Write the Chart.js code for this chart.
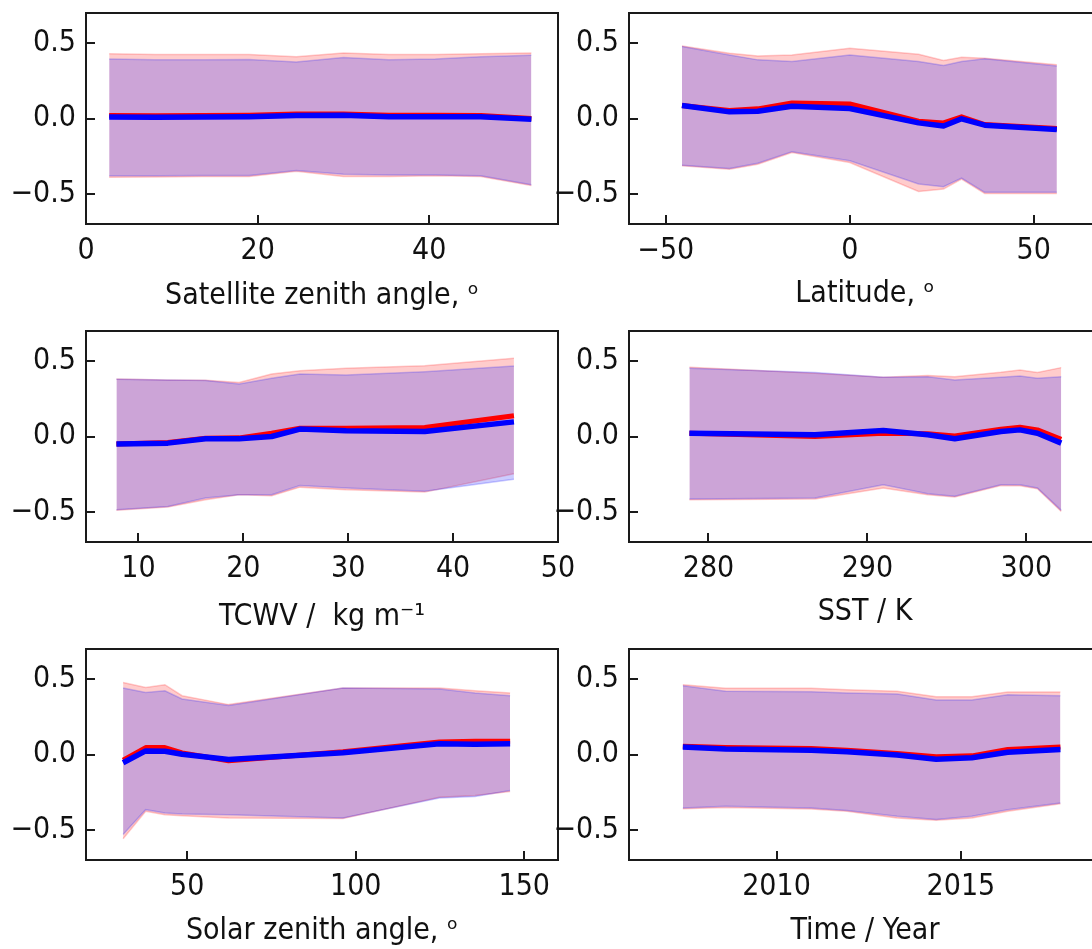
<!DOCTYPE html>
<html><head><meta charset="utf-8">
<script src="https://cdn.jsdelivr.net/npm/chart.js@4.4.1/dist/chart.umd.min.js"></script>
<style>
html,body{margin:0;padding:0;background:#fff;width:1092px;height:949px;overflow:hidden;}
#wrap{position:relative;width:1092px;height:949px;overflow:hidden;background:#fff;}
canvas{position:absolute;}
</style></head><body><div id="wrap"></div>
<script>
// ---------- DATA ----------
const yTickValues = [-0.5, 0, 0.5];
const yTickLabels = ['\u22120.5', '0.0', '0.5'];

// Satellite zenith angle
const satX        = [2.7, 8.1, 13.5, 19.0, 24.5, 30.0, 35.3, 40.7, 46.0, 51.9];
const satRedMean  = [0.02, 0.018, 0.02, 0.022, 0.03, 0.03, 0.022, 0.022, 0.02, 0.0];
const satRedUp    = [0.43, 0.425, 0.425, 0.425, 0.41, 0.435, 0.425, 0.425, 0.43, 0.435];
const satRedLow   = [-0.39, -0.388, -0.385, -0.385, -0.35, -0.385, -0.385, -0.38, -0.385, -0.445];
const satBlueMean = [0.01, 0.008, 0.01, 0.012, 0.02, 0.022, 0.012, 0.012, 0.012, -0.005];
const satBlueUp   = [0.395, 0.39, 0.39, 0.392, 0.375, 0.405, 0.39, 0.395, 0.41, 0.42];
const satBlueLow  = [-0.38, -0.38, -0.378, -0.378, -0.345, -0.37, -0.375, -0.375, -0.38, -0.44];
const satTicks = [0, 20, 40];
const satTickLabels = ['0', '20', '40'];
const satTitle = 'Satellite zenith angle, \u1D52';

// Latitude
const latX        = [-45.6, -32.7, -25.0, -15.7, 0.0, 18.7, 25.5, 30.4, 36.7, 56.3];
const latRedMean  = [0.086, 0.053, 0.064, 0.103, 0.097, -0.018, -0.029, 0.011, -0.04, -0.066];
const latRedUp    = [0.481, 0.433, 0.415, 0.422, 0.466, 0.426, 0.385, 0.407, 0.40, 0.356];
const latRedLow   = [-0.314, -0.336, -0.303, -0.226, -0.292, -0.484, -0.468, -0.402, -0.497, -0.497];
const latBlueMean = [0.086, 0.044, 0.048, 0.081, 0.066, -0.029, -0.05, -0.002, -0.044, -0.073];
const latBlueUp   = [0.477, 0.422, 0.389, 0.378, 0.422, 0.378, 0.352, 0.378, 0.396, 0.349];
const latBlueLow  = [-0.31, -0.332, -0.297, -0.22, -0.281, -0.435, -0.453, -0.396, -0.49, -0.49];
const latTicks = [-50, 0, 50];
const latTickLabels = ['\u221250', '0', '50'];
const latTitle = 'Latitude, \u1D52';

// TCWV
const tcwvX        = [7.9, 12.8, 16.4, 19.6, 22.7, 25.4, 29.8, 37.3, 45.8];
const tcwvRedMean  = [-0.049, -0.04, -0.011, -0.009, 0.022, 0.055, 0.055, 0.06, 0.137];
const tcwvRedUp    = [0.382, 0.375, 0.373, 0.358, 0.415, 0.437, 0.453, 0.47, 0.519];
const tcwvRedLow   = [-0.49, -0.468, -0.42, -0.386, -0.393, -0.336, -0.353, -0.369, -0.247];
const tcwvBlueMean = [-0.049, -0.044, -0.015, -0.015, 0.0, 0.049, 0.038, 0.033, 0.097];
const tcwvBlueUp   = [0.38, 0.375, 0.371, 0.349, 0.386, 0.415, 0.408, 0.43, 0.468];
const tcwvBlueLow  = [-0.486, -0.464, -0.408, -0.386, -0.386, -0.325, -0.342, -0.364, -0.283];
const tcwvTicks = [10, 20, 30, 40, 50];
const tcwvTickLabels = ['10', '20', '30', '40', '50'];
const tcwvTitle = 'TCWV /  kg m\u207B\u00B9';

// SST
const sstX        = [278.8, 286.7, 291.0, 293.8, 295.5, 298.4, 299.6, 300.7, 302.2];
const sstRedMean  = [0.022, 0.0, 0.022, 0.018, 0.004, 0.049, 0.062, 0.044, -0.018];
const sstRedUp    = [0.459, 0.419, 0.393, 0.404, 0.397, 0.426, 0.442, 0.424, 0.457];
const sstRedLow   = [-0.419, -0.415, -0.342, -0.386, -0.402, -0.325, -0.327, -0.347, -0.497];
const sstBlueMean = [0.022, 0.011, 0.04, 0.011, -0.015, 0.033, 0.044, 0.022, -0.044];
const sstBlueUp   = [0.453, 0.424, 0.393, 0.397, 0.375, 0.393, 0.402, 0.386, 0.397];
const sstBlueLow  = [-0.415, -0.408, -0.32, -0.38, -0.397, -0.32, -0.32, -0.342, -0.49];
const sstTicks = [280, 290, 300];
const sstTickLabels = ['280', '290', '300'];
const sstTitle = 'SST / K';

// Solar zenith angle
const szaX        = [31.0, 37.7, 43.4, 48.5, 62.3, 96.2, 124.8, 135.4, 145.8];
const szaRedMean  = [-0.037, 0.046, 0.046, 0.011, -0.042, 0.018, 0.083, 0.088, 0.088];
const szaRedUp    = [0.478, 0.445, 0.463, 0.39, 0.331, 0.441, 0.441, 0.423, 0.408];
const szaRedLow   = [-0.559, -0.377, -0.399, -0.406, -0.421, -0.425, -0.283, -0.272, -0.246];
const szaBlueMean = [-0.055, 0.024, 0.022, 0.002, -0.033, 0.011, 0.072, 0.068, 0.072];
const szaBlueUp   = [0.441, 0.412, 0.423, 0.368, 0.325, 0.441, 0.434, 0.408, 0.39];
const szaBlueLow  = [-0.531, -0.366, -0.388, -0.395, -0.399, -0.421, -0.289, -0.279, -0.239];
const szaTicks = [50, 100, 150];
const szaTickLabels = ['50', '100', '150'];
const szaTitle = 'Solar zenith angle, \u1D52';

// Time
const timeX        = [2007.46, 2008.62, 2010.94, 2011.91, 2013.27, 2014.33, 2015.3, 2016.27, 2017.7];
const timeRedMean  = [0.055, 0.046, 0.039, 0.029, 0.007, -0.015, -0.009, 0.033, 0.05];
const timeRedUp    = [0.463, 0.439, 0.439, 0.43, 0.419, 0.384, 0.384, 0.414, 0.414];
const timeRedLow   = [-0.36, -0.351, -0.362, -0.377, -0.421, -0.436, -0.421, -0.377, -0.327];
const timeBlueMean = [0.05, 0.037, 0.029, 0.018, -0.004, -0.031, -0.022, 0.015, 0.033];
const timeBlueUp   = [0.456, 0.419, 0.417, 0.408, 0.401, 0.362, 0.362, 0.397, 0.39];
const timeBlueLow  = [-0.355, -0.344, -0.355, -0.371, -0.41, -0.432, -0.41, -0.366, -0.322];
const timeTicks = [2010, 2015];
const timeTickLabels = ['2010', '2015'];
const timeTitle = 'Time / Year';

// ---------- LAYOUT / STYLE ----------
Chart.defaults.font.family = "'DejaVu Sans Condensed','DejaVu Sans',sans-serif";
const FONT = 30;
const PLOT_W = 472, PLOT_H = 211, YAX_W = 86, XAX_H = 95, PAD_TOP = 8;
const colCanvasLeft = [0, 543];
const colCanvasWidth = [600, 568];
const rowPlotTop = [13, 331, 649];

const panels = [
  {x: satX, rm: satRedMean, ru: satRedUp, rl: satRedLow, bm: satBlueMean, bu: satBlueUp, bl: satBlueLow,
   ticks: satTicks, labels: satTickLabels, title: satTitle, min: 0, max: 55, col: 0, row: 0, tOff: 72},
  {x: latX, rm: latRedMean, ru: latRedUp, rl: latRedLow, bm: latBlueMean, bu: latBlueUp, bl: latBlueLow,
   ticks: latTicks, labels: latTickLabels, title: latTitle, min: -60, max: 68.3, col: 1, row: 0, tOff: 70},
  {x: tcwvX, rm: tcwvRedMean, ru: tcwvRedUp, rl: tcwvRedLow, bm: tcwvBlueMean, bu: tcwvBlueUp, bl: tcwvBlueLow,
   ticks: tcwvTicks, labels: tcwvTickLabels, title: tcwvTitle, min: 5, max: 50, col: 0, row: 1, tOff: 75},
  {x: sstX, rm: sstRedMean, ru: sstRedUp, rl: sstRedLow, bm: sstBlueMean, bu: sstBlueUp, bl: sstBlueLow,
   ticks: sstTicks, labels: sstTickLabels, title: sstTitle, min: 275, max: 304.7, col: 1, row: 1, tOff: 70},
  {x: szaX, rm: szaRedMean, ru: szaRedUp, rl: szaRedLow, bm: szaBlueMean, bu: szaBlueUp, bl: szaBlueLow,
   ticks: szaTicks, labels: szaTickLabels, title: szaTitle, min: 20, max: 160, col: 0, row: 2, tOff: 71},
  {x: timeX, rm: timeRedMean, ru: timeRedUp, rl: timeRedLow, bm: timeBlueMean, bu: timeBlueUp, bl: timeBlueLow,
   ticks: timeTicks, labels: timeTickLabels, title: timeTitle, min: 2006, max: 2018.8, col: 1, row: 2, tOff: 71}
];

const framePlugin = {
  id: 'frame',
  afterDraw(chart) {
    const {ctx, chartArea: a} = chart;
    const xs = chart.scales.x, ys = chart.scales.y;
    ctx.save();
    ctx.strokeStyle = '#1a1a1a';
    ctx.lineWidth = 2;
    ctx.strokeRect(a.left, a.top, a.right - a.left, a.bottom - a.top);
    ctx.beginPath();
    xs.ticks.forEach(t => {
      const px = Math.round(xs.getPixelForValue(t.value));
      ctx.moveTo(px, a.bottom); ctx.lineTo(px, a.bottom - 9);
    });
    ys.ticks.forEach(t => {
      const py = Math.round(ys.getPixelForValue(t.value));
      ctx.moveTo(a.left, py); ctx.lineTo(a.left + 9, py);
    });
    ctx.stroke();
    ctx.restore();
  }
};

const wrap = document.getElementById('wrap');
const pts = (xs, ys) => xs.map((v, i) => ({x: v, y: ys[i]}));
const RED_F = 'rgba(255,0,0,0.2)', BLUE_F = 'rgba(0,0,255,0.2)';

panels.forEach(p => {
  const cv = document.createElement('canvas');
  const w = colCanvasWidth[p.col], h = PAD_TOP + PLOT_H + XAX_H;
  cv.width = w; cv.height = h;
  cv.style.left = colCanvasLeft[p.col] + 'px';
  cv.style.top = (rowPlotTop[p.row] - PAD_TOP) + 'px';
  cv.style.width = w + 'px'; cv.style.height = h + 'px';
  wrap.appendChild(cv);
  const padRight = w - YAX_W - PLOT_W;
  const lh = FONT * 1.2;
  new Chart(cv.getContext('2d'), {
    type: 'line',
    data: {
      datasets: [
        {data: pts(p.x, p.bm), borderColor: '#0000ff', borderWidth: 5.5, fill: false, borderJoinStyle: 'round'},
        {data: pts(p.x, p.rm), borderColor: '#ff0000', borderWidth: 5, fill: false, borderJoinStyle: 'round'},
        {data: pts(p.x, p.bu), borderColor: BLUE_F, backgroundColor: BLUE_F, borderWidth: 1.5, fill: '+1'},
        {data: pts(p.x, p.bl), borderColor: BLUE_F, borderWidth: 1.5, fill: false},
        {data: pts(p.x, p.ru), borderColor: RED_F, backgroundColor: RED_F, borderWidth: 1.5, fill: '+1'},
        {data: pts(p.x, p.rl), borderColor: RED_F, borderWidth: 1.5, fill: false}
      ]
    },
    options: {
      responsive: false, animation: false, devicePixelRatio: 1,
      layout: {padding: {top: PAD_TOP, left: 0, right: padRight, bottom: 0}, autoPadding: false},
      plugins: {legend: {display: false}, tooltip: {enabled: false}},
      elements: {point: {radius: 0, hoverRadius: 0}, line: {tension: 0}},
      scales: {
        x: {
          type: 'linear', min: p.min, max: p.max,
          grid: {display: false, drawTicks: false}, border: {display: false},
          afterBuildTicks: s => { s.ticks = p.ticks.map(v => ({value: v})); },
          afterFit: s => { s.height = XAX_H; s.paddingLeft = 0; s.paddingRight = 0; s.paddingTop = 0; s.paddingBottom = 0; },
          ticks: {autoSkip: false, maxRotation: 0, minRotation: 0, padding: 9, color: '#111',
                  font: {size: FONT},
                  callback: v => { const i = p.ticks.indexOf(v); return i >= 0 ? p.labels[i] : ''; }},
          title: {display: true, text: p.title, color: '#111', font: {size: FONT},
                  padding: {top: 0, bottom: XAX_H - lh / 2 - (p.tOff + 0.5)}}
        },
        y: {
          type: 'linear', min: -0.7, max: 0.7,
          grid: {display: false, drawTicks: false}, border: {display: false},
          afterBuildTicks: s => { s.ticks = yTickValues.map(v => ({value: v})); },
          afterFit: s => { s.width = YAX_W; s.paddingTop = 0; s.paddingBottom = 0; s.paddingLeft = 0; s.paddingRight = 0; },
          ticks: {autoSkip: false, padding: 10, color: '#111', font: {size: FONT},
                  callback: v => { const i = yTickValues.indexOf(v); return i >= 0 ? yTickLabels[i] : ''; }}
        }
      }
    },
    plugins: [framePlugin]
  });
});
</script>
</body></html>
